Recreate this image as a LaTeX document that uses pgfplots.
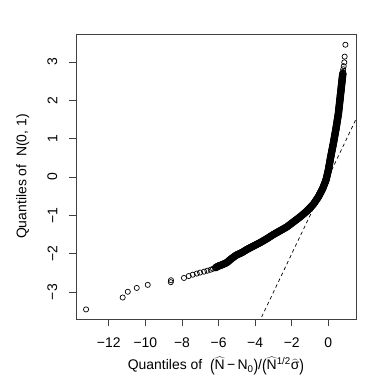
\documentclass[border=0pt]{standalone}
\usepackage{fontspec}
\setmainfont{Liberation Sans}
\usepackage{pgfplots}
\pgfplotsset{compat=1.18}
\newcommand{\tp}[1]{\raisebox{-0.1em}{\scalebox{1}[1.22]{#1}}}
\begin{document}
\fontsize{14}{17}\selectfont
\begin{tikzpicture}
\begin{axis}[
    scale only axis,
    width=280bp, height=285bp,
    xmin=-13.79, xmax=1.51,
    ymin=-3.70, ymax=3.73,
    xtick={-12,-10,-8,-6,-4,-2,0},
    xticklabels={−12,−10,−8,−6,−4,−2,0},
    ytick={-3,-2,-1,0,1,2,3},
    yticklabels={−3,−2,−1,0,1,2,3},
    xtick pos=bottom, ytick pos=left,
    tick align=outside,
    major tick length=7bp,
    axis line style={black!75, line width=0.7bp},
    every tick/.style={black!75, line width=0.7bp},
    xticklabel style={inner sep=0pt, anchor=north},
    yticklabel style={inner sep=0pt, rotate=90, anchor=south},
    xticklabel shift=11.5bp, yticklabel shift=11.5bp,
    xlabel={Quantiles of\ \ \tp{(}$\widehat{\mbox{N}}$\,−\,N\textsubscript{0}\tp{)}/\tp{(}$\widehat{\mbox{N}}$\textsuperscript{1/2}$\widehat{\mbox{σ}}$\tp{)}},
    ylabel={Quantiles of\ \ N(0, 1)},
    xlabel style={at={(axis description cs:0.5,-0.165)}, anchor=center},
    ylabel style={at={(axis description cs:-0.19,0.5)}, anchor=center},
]
\coordinate (bl) at (rel axis cs:0,0);
\coordinate (tr) at (rel axis cs:1,1);

% reference line
\addplot[black, line width=0.7bp, dash pattern=on 3.5bp off 3bp] coordinates {(-3.8,-3.8) (1.6,1.6)};

% isolated points (tails)
\addplot[only marks, mark=o, mark size=2.6bp, mark options={black, line width=0.7bp}] coordinates {
(-13.24,-3.45) (-11.24,-3.14) (-10.96,-2.99) (-10.47,-2.89) (-9.87,-2.81)
(-8.61,-2.74) (-8.60,-2.69)
(-7.89,-2.63) (-7.63,-2.58) (-7.41,-2.545) (-7.19,-2.515) (-7.01,-2.49)
(-6.79,-2.465) (-6.61,-2.44) (-6.43,-2.415) (-6.30,-2.39) (-6.19,-2.37)
(0.80,2.74) (0.81,2.81) (0.84,2.89) (0.87,2.99) (0.89,3.14) (0.93,3.45)
};

% dense band
\addplot[only marks, mark=o, mark size=3.2bp, mark options={black, line width=1.1bp}] coordinates {
(-6.145,-2.358) (-6.10,-2.345) (-6.055,-2.333) (-6.01,-2.32)
(-5.965,-2.313) (-5.92,-2.305) (-5.875,-2.298) (-5.83,-2.29)
(-5.783,-2.28) (-5.737,-2.27) (-5.69,-2.26) (-5.643,-2.25) (-5.597,-2.24) (-5.55,-2.23)
(-5.511,-2.214) (-5.473,-2.199) (-5.434,-2.183) (-5.396,-2.167) (-5.357,-2.151) (-5.319,-2.136) (-5.28,-2.12)
(-5.235,-2.105) (-5.19,-2.09) (-5.145,-2.075) (-5.10,-2.06) (-5.055,-2.045) (-5.01,-2.03)
(-4.963,-2.02) (-4.917,-2.01) (-4.87,-2.00) (-4.823,-1.99) (-4.777,-1.98) (-4.73,-1.97)
(-4.685,-1.957) (-4.64,-1.943) (-4.595,-1.93) (-4.55,-1.917) (-4.505,-1.903) (-4.46,-1.89)
(-4.415,-1.879) (-4.37,-1.868) (-4.325,-1.856) (-4.28,-1.845) (-4.235,-1.834) (-4.19,-1.823) (-4.145,-1.811) (-4.10,-1.80)
(-4.054,-1.789) (-4.008,-1.778) (-3.961,-1.766) (-3.915,-1.755) (-3.869,-1.744) (-3.823,-1.733) (-3.776,-1.721) (-3.73,-1.71)
(-3.685,-1.698) (-3.64,-1.685) (-3.595,-1.673) (-3.55,-1.66) (-3.505,-1.648) (-3.46,-1.635) (-3.415,-1.623) (-3.37,-1.61)
(-3.325,-1.596) (-3.28,-1.583) (-3.235,-1.569) (-3.19,-1.555) (-3.145,-1.541) (-3.10,-1.528) (-3.055,-1.514) (-3.01,-1.50)
(-2.964,-1.488) (-2.918,-1.475) (-2.871,-1.463) (-2.825,-1.45) (-2.779,-1.438) (-2.733,-1.425) (-2.686,-1.413) (-2.64,-1.40)
(-2.594,-1.388) (-2.548,-1.375) (-2.501,-1.363) (-2.455,-1.35) (-2.409,-1.338) (-2.363,-1.325) (-2.316,-1.313) (-2.27,-1.30)
(-2.225,-1.284) (-2.18,-1.268) (-2.135,-1.251) (-2.09,-1.235) (-2.045,-1.219) (-2.00,-1.203) (-1.955,-1.186) (-1.91,-1.17)
(-1.865,-1.154) (-1.82,-1.138) (-1.775,-1.121) (-1.73,-1.105) (-1.685,-1.089) (-1.64,-1.073) (-1.595,-1.056) (-1.55,-1.04)
(-1.509,-1.023) (-1.468,-1.007) (-1.427,-0.99) (-1.386,-0.973) (-1.344,-0.957) (-1.303,-0.94) (-1.262,-0.923) (-1.221,-0.907) (-1.18,-0.89)
(-1.144,-0.872) (-1.108,-0.854) (-1.072,-0.836) (-1.036,-0.818) (-1.00,-0.80) (-0.964,-0.782) (-0.928,-0.764) (-0.892,-0.746) (-0.856,-0.728) (-0.82,-0.71)
(-0.79,-0.689) (-0.76,-0.668) (-0.73,-0.647) (-0.70,-0.626) (-0.67,-0.604) (-0.64,-0.583) (-0.61,-0.562) (-0.58,-0.541) (-0.55,-0.52)
(-0.526,-0.498) (-0.502,-0.476) (-0.478,-0.454) (-0.454,-0.432) (-0.43,-0.41) (-0.406,-0.388) (-0.382,-0.366) (-0.358,-0.344) (-0.334,-0.322) (-0.31,-0.30)
(-0.29,-0.276) (-0.27,-0.251) (-0.25,-0.227) (-0.23,-0.202) (-0.21,-0.178) (-0.19,-0.153) (-0.17,-0.129) (-0.15,-0.104) (-0.13,-0.08)
(-0.117,-0.054) (-0.104,-0.028) (-0.091,-0.002) (-0.078,0.024) (-0.065,0.05) (-0.052,0.076) (-0.039,0.102) (-0.026,0.128) (-0.013,0.154) (0,0.18)
(0.009,0.205) (0.019,0.23) (0.028,0.255) (0.037,0.28) (0.046,0.305) (0.056,0.33) (0.065,0.355) (0.074,0.38) (0.084,0.405) (0.093,0.43) (0.102,0.455) (0.111,0.48) (0.121,0.505) (0.13,0.53)
(0.141,0.556) (0.152,0.582) (0.162,0.608) (0.173,0.635) (0.184,0.661) (0.195,0.687) (0.205,0.713) (0.216,0.739) (0.227,0.765) (0.238,0.792) (0.248,0.818) (0.259,0.844) (0.27,0.87)
(0.279,0.895) (0.289,0.92) (0.298,0.945) (0.308,0.97) (0.317,0.995) (0.326,1.02) (0.336,1.045) (0.345,1.07) (0.354,1.095) (0.364,1.12) (0.373,1.145) (0.383,1.17) (0.392,1.195) (0.401,1.22) (0.411,1.245) (0.42,1.27)
(0.429,1.296) (0.437,1.322) (0.446,1.348) (0.455,1.374) (0.463,1.40) (0.472,1.426) (0.481,1.452) (0.489,1.478) (0.498,1.504) (0.507,1.53) (0.515,1.556) (0.524,1.582) (0.533,1.608) (0.541,1.634) (0.55,1.66)
(0.556,1.686) (0.562,1.712) (0.568,1.738) (0.574,1.764) (0.58,1.79) (0.586,1.816) (0.592,1.842) (0.598,1.868) (0.604,1.894) (0.61,1.92) (0.616,1.946) (0.622,1.972) (0.628,1.998) (0.634,2.024) (0.64,2.05)
(0.646,2.076) (0.652,2.102) (0.658,2.128) (0.664,2.154) (0.67,2.18) (0.676,2.206) (0.682,2.232) (0.688,2.258) (0.694,2.284) (0.70,2.31) (0.706,2.336) (0.712,2.362) (0.718,2.388) (0.724,2.414) (0.73,2.44)
(0.736,2.466) (0.742,2.492) (0.748,2.518) (0.754,2.544) (0.76,2.57) (0.766,2.596) (0.772,2.622) (0.778,2.648) (0.784,2.674) (0.79,2.70)
};
\end{axis}
\pgfresetboundingbox
\path ([shift={(-76bp,-71bp)}]bl) rectangle ([shift={(34bp,34bp)}]tr);
\end{tikzpicture}
\end{document}
